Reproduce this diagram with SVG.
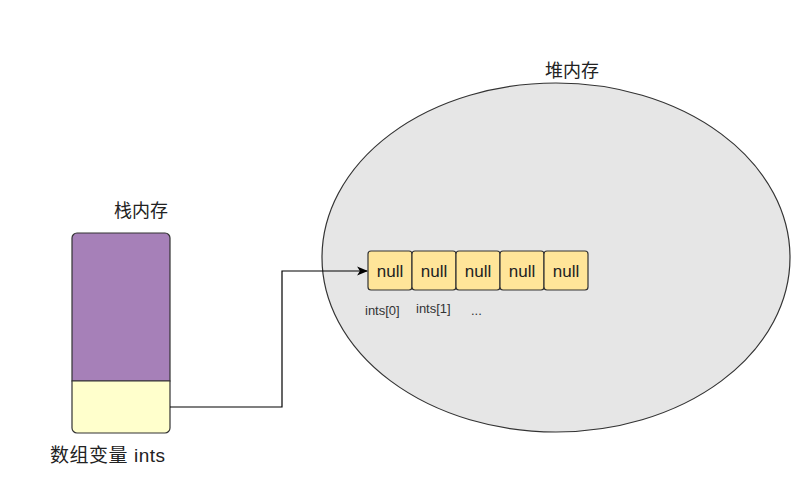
<svg xmlns="http://www.w3.org/2000/svg" width="810" height="483" viewBox="0 0 810 483">
<style>
.t{font-family:"Liberation Sans","Noto Sans CJK SC",sans-serif;fill:#222}
.cell{fill:#ffe599;stroke:#333;stroke-width:1.2}
.cl{font-family:"Liberation Sans",Arial,sans-serif;font-size:17px;fill:#222;text-anchor:middle}
.sm{font-family:"Liberation Sans",Arial,sans-serif;font-size:13px;fill:#333}
</style>
<defs>
<marker id="arr" viewBox="0 0 10 10" refX="9" refY="5" markerWidth="11" markerHeight="11" markerUnits="userSpaceOnUse" orient="auto">
<path d="M0,1 L10,5 L0,9 L2.5,5 Z" fill="#000"/>
</marker>
</defs>
<rect width="810" height="483" fill="#fff"/>
<g id="heap">
<ellipse cx="556" cy="257.5" rx="234" ry="174.5" fill="#e6e6e6" stroke="#333" stroke-width="1.2"/>
<text class="t" x="572" y="77" font-size="18" text-anchor="middle">堆内存</text>
</g>
<g id="stack">
<path d="M77,233 H165 A5,5 0 0 1 170,238 V381 H72 V238 A5,5 0 0 1 77,233 Z" fill="#a680b8" stroke="#333" stroke-width="1.2"/>
<path d="M72,381 H170 V428 A5,5 0 0 1 165,433 H77 A5,5 0 0 1 72,428 Z" fill="#ffffcc" stroke="#333" stroke-width="1.2"/>
<text class="t" x="141" y="217" font-size="18" text-anchor="middle">栈内存</text>
<text class="t" x="50" y="462" font-size="19" textLength="115" lengthAdjust="spacing">数组变量 ints</text>
</g>
<g id="cells">
<rect class="cell" x="368" y="251" width="44" height="39" rx="3"/>
<rect class="cell" x="412" y="251" width="44" height="39" rx="3"/>
<rect class="cell" x="456" y="251" width="44" height="39" rx="3"/>
<rect class="cell" x="500" y="251" width="44" height="39" rx="3"/>
<rect class="cell" x="544" y="251" width="44" height="39" rx="3"/>
<text class="cl" x="390" y="277">null</text>
<text class="cl" x="434" y="277">null</text>
<text class="cl" x="478" y="277">null</text>
<text class="cl" x="522" y="277">null</text>
<text class="cl" x="566" y="277">null</text>
<text class="sm" x="365" y="315">ints[0]</text>
<text class="sm" x="416" y="313">ints[1]</text>
<text class="sm" x="471" y="315">...</text>
</g>
<g id="connectors">
<path d="M170,407 H282 V271 H367" fill="none" stroke="#000" stroke-width="1.2" marker-end="url(#arr)"/>
</g>
</svg>
